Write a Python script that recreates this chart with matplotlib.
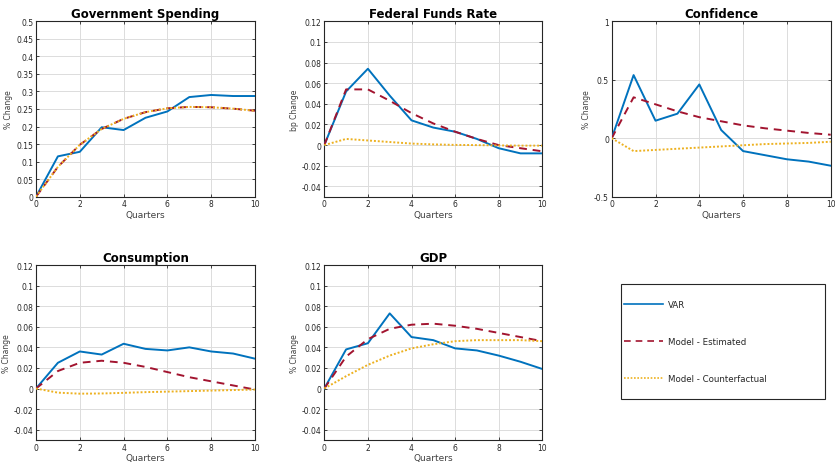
import matplotlib
matplotlib.use("Agg")
import matplotlib.pyplot as plt
from matplotlib.lines import Line2D
from matplotlib.patches import Rectangle

quarters = list(range(11))

gov_var = [0, 0.115, 0.128, 0.198, 0.19, 0.225, 0.243, 0.284, 0.29, 0.287, 0.287]
gov_est = [0, 0.085, 0.148, 0.193, 0.222, 0.241, 0.252, 0.256, 0.255, 0.251, 0.245]
gov_cf = [0, 0.085, 0.148, 0.193, 0.222, 0.241, 0.252, 0.256, 0.255, 0.251, 0.245]

ffr_var = [0, 0.052, 0.074, 0.048, 0.024, 0.017, 0.013, 0.006, -0.003, -0.008, -0.008]
ffr_est = [0, 0.054, 0.054, 0.043, 0.031, 0.021, 0.013, 0.006, 0.0, -0.003, -0.006]
ffr_cf = [0, 0.006, 0.0045, 0.003, 0.0015, 0.0007, 0.0002, 0.0, -0.0003, -0.0005, -0.0005]

conf_var = [0, 0.54, 0.15, 0.21, 0.46, 0.07, -0.11, -0.145, -0.18, -0.2, -0.235]
conf_est = [0, 0.35, 0.29, 0.23, 0.18, 0.145, 0.11, 0.085, 0.065, 0.045, 0.03]
conf_cf = [0, -0.11, -0.1, -0.09, -0.08, -0.07, -0.06, -0.05, -0.045, -0.04, -0.03]

cons_var = [0, 0.025, 0.036, 0.033, 0.0435, 0.0385, 0.037, 0.040, 0.036, 0.034, 0.029]
cons_est = [0, 0.017, 0.025, 0.027, 0.025, 0.021, 0.016, 0.011, 0.007, 0.003, -0.001]
cons_cf = [0, -0.004, -0.005, -0.0048, -0.0042, -0.0035, -0.003, -0.0025, -0.002, -0.0015, -0.001]

gdp_var = [0, 0.038, 0.044, 0.073, 0.050, 0.047, 0.039, 0.037, 0.032, 0.026, 0.019]
gdp_est = [0, 0.031, 0.048, 0.058, 0.062, 0.063, 0.061, 0.058, 0.054, 0.050, 0.046]
gdp_cf = [0, 0.012, 0.023, 0.032, 0.039, 0.043, 0.046, 0.047, 0.047, 0.047, 0.046]

titles = ["Government Spending", "Federal Funds Rate", "Confidence", "Consumption", "GDP"]
ylabels = ["% Change", "bp Change", "% Change", "% Change", "% Change"]
series_labels = ["VAR", "Model - Estimated", "Model - Counterfactual"]

C_VAR = "#0072BD"
C_EST = "#A2142F"
C_CF = "#EDB120"

W, H = 835, 464
fig = plt.figure(figsize=(W / 100, H / 100), dpi=100)

def rect(l, r, t, b):
    return [l / W, 1 - b / H, (r - l) / W, (b - t) / H]

rects = [rect(36, 255, 22.3, 197.7), rect(324.3, 542.3, 22.3, 197.7), rect(611.7, 830.7, 22.3, 197.7),
         rect(36, 255, 266, 441), rect(324.3, 542.3, 266, 441)]

data = [(gov_var, gov_est, gov_cf), (ffr_var, ffr_est, ffr_cf), (conf_var, conf_est, conf_cf),
        (cons_var, cons_est, cons_cf), (gdp_var, gdp_est, gdp_cf)]

small_ticks = [round(-0.04 + 0.02 * i, 2) for i in range(9)]
yspecs = [
    ((0, 0.5), [round(0.05 * i, 2) for i in range(11)]),
    ((-0.05, 0.12), small_ticks),
    ((-0.5, 1.0), [-0.5, 0, 0.5, 1]),
    ((-0.05, 0.12), small_ticks),
    ((-0.05, 0.12), small_ticks),
]

for i, r in enumerate(rects):
    ax = fig.add_axes(r)
    v, e, c = data[i]
    ax.plot(quarters, v, color=C_VAR, lw=1.4, zorder=3)
    ax.plot(quarters, e, color=C_EST, lw=1.4, ls=(0, (4, 3)), zorder=4)
    ax.plot(quarters, c, color=C_CF, lw=1.4, ls=(0, (1, 1)), zorder=5)
    ax.set_xlim(0, 10)
    ax.set_ylim(*yspecs[i][0])
    ax.set_xticks([0, 2, 4, 6, 8, 10])
    ax.set_yticks(yspecs[i][1])
    ax.set_yticklabels(["%g" % t for t in yspecs[i][1]])
    ax.grid(True, color="#dcdcdc", lw=0.7)
    ax.set_axisbelow(True)
    ax.tick_params(direction="in", length=2.5, width=0.6, labelsize=5.5, colors="#262626",
                   top=True, right=True, pad=2)
    for sp in ax.spines.values():
        sp.set_linewidth(0.8)
        sp.set_color("#262626")
    ax.set_title(titles[i], fontsize=8.5, fontweight="bold", pad=3)
    ax.set_xlabel("Quarters", fontsize=6.5, color="#404040", labelpad=1)
    ax.set_ylabel(ylabels[i], fontsize=5.5, color="#404040", labelpad=2)

# legend frame
fig.patches.append(Rectangle((620.7 / W, 1 - 400 / H), (825.3 - 620.7) / W, (400 - 285.3) / H,
                             transform=fig.transFigure, fill=False, edgecolor="#262626",
                             linewidth=0.8))

handles = [Line2D([], [], color=C_VAR, lw=1.2),
           Line2D([], [], color=C_EST, lw=1.2, ls=(0, (4, 3))),
           Line2D([], [], color=C_CF, lw=1.2, ls=(0, (1, 1)))]
leg = fig.legend(handles, series_labels, loc="center left",
                 bbox_to_anchor=(623.5 / W, 1 - 342.5 / H),
                 fontsize=6.2, frameon=False, labelspacing=3.2, borderpad=0,
                 handlelength=4.6, handletextpad=0.6, borderaxespad=0)
for t in leg.get_texts():
    t.set_color("#262626")

fig.savefig("out.png", dpi=100)
